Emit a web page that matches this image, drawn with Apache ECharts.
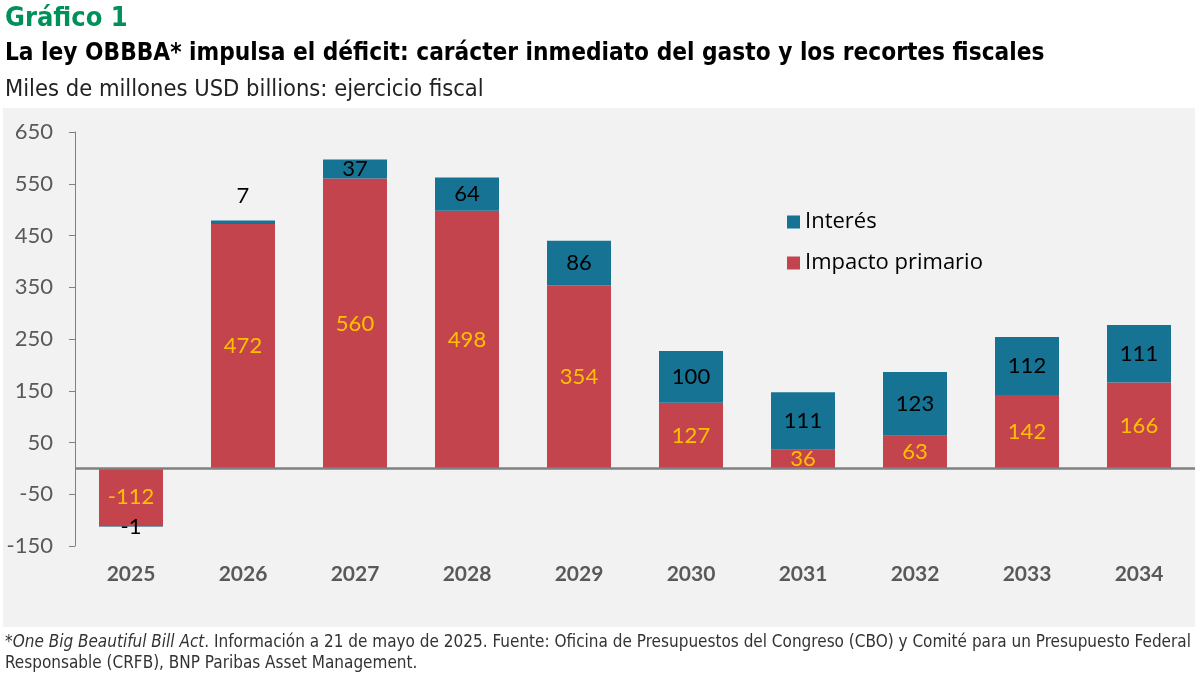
<!DOCTYPE html>
<html><head><meta charset="utf-8">
<script src="https://cdn.jsdelivr.net/npm/echarts@6/dist/echarts.min.js"></script>
<style>html,body{margin:0;padding:0;background:#fff}#c{width:1195px;height:679px}</style>
</head><body><div id="c"></div>
<script>
const categories = ['2025','2026','2027','2028','2029','2030','2031','2032','2033','2034'];
const primario = [-112, 472, 560, 498, 354, 127, 36, 63, 142, 166];
const interes = [-1, 7, 37, 64, 86, 100, 111, 123, 112, 111];
const yTicks = {min: -150, max: 650, interval: 100};
const seriesNames = ['Interés', 'Impacto primario'];

const chart = echarts.init(document.getElementById('c'));
const numFont = 'Lato, "Liberation Sans", sans-serif';
const condFont = '"DejaVu Sans Condensed", "Open Sans", sans-serif';

chart.setOption({
  animation: false,
  backgroundColor: '#fff',
  graphic: [
    {type:'rect', shape:{x:3, y:108, width:1192, height:519}, style:{fill:'#F2F2F2'}, z:-10, silent:true},
    {type:'text', left:5, top:5, style:{text:'Gráfico 1', fill:'#00915A', font:'bold 27px "DejaVu Sans Condensed", sans-serif'}},
    {type:'text', left:5, top:42, style:{text:'La ley OBBBA* impulsa el déficit: carácter inmediato del gasto y los recortes fiscales', fill:'#000', font:'bold 24.2px "DejaVu Sans Condensed", sans-serif'}},
    {type:'text', left:5, top:78, style:{text:'Miles de millones USD billions: ejercicio fiscal', fill:'#222', font:'23.5px "DejaVu Sans Condensed", sans-serif'}},
    {type:'text', left:5, top:632, style:{
      text:'*{i|One Big Beautiful Bill Act}. Información a 21 de mayo de 2025. Fuente: Oficina de Presupuestos del Congreso (CBO) y Comité para un Presupuesto Federal\nResponsable (CRFB), BNP Paribas Asset Management.',
      fill:'#333', font:'17px ' + condFont, lineHeight:21,
      rich:{i:{fontStyle:'italic', fontSize:17, fontFamily:condFont, fill:'#333'}}
    }}
  ],
  legend: {
    data: seriesNames,
    orient: 'vertical', left: 782, top: 206, itemGap: 19,
    itemWidth: 13, itemHeight: 13, icon: 'rect',
    textStyle: {fontSize: 22, color: '#000', fontFamily: '"Open Sans", sans-serif'}
  },
  grid: {left: 75, width: 1121, top: 132, height: 414, containLabel: false},
  xAxis: {
    type: 'category', data: categories,
    axisLine: {show: false}, axisTick: {show: false},
    axisLabel: {color: '#595959', fontSize: 21, fontWeight: 'bold', fontFamily: numFont, margin: 18}
  },
  yAxis: {
    type: 'value', min: yTicks.min, max: yTicks.max, interval: yTicks.interval,
    splitLine: {show: false},
    axisLine: {show: true, lineStyle: {color: '#808080', width: 1}},
    axisTick: {show: true, length: 6, lineStyle: {color: '#808080'}},
    axisLabel: {color: '#595959', fontSize: 22, fontFamily: numFont, margin: 22}
  },
  series: [
    {
      name: 'Impacto primario', type: 'bar', stack: 'a', barWidth: 64,
      data: primario,
      itemStyle: {color: '#C4444D'},
      label: {show: true, position: 'inside', color: '#FFC000', fontSize: 22, fontFamily: numFont},
      markLine: {
        silent: true, symbol: 'none', label: {show: false},
        lineStyle: {color: '#808080', width: 2.5, type: 'solid'},
        data: [{yAxis: 0}]
      }
    },
    {
      name: 'Interés', type: 'bar', stack: 'a', barWidth: 64,
      data: interes.map((v, i) => i === 1 ? {value: v, label: {position: 'top', distance: 14}} : v),
      itemStyle: {color: '#167394'},
      label: {show: true, position: 'inside', color: '#000', fontSize: 22, fontFamily: numFont}
    }
  ]
});
</script></body></html>
